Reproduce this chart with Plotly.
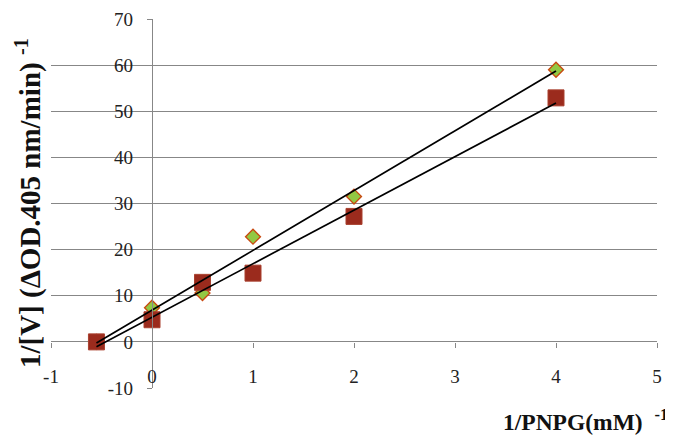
import numpy as np
import plotly.graph_objects as go

# Data
x_series1 = [-0.55, 0, 0.5, 1, 2, 4]
y_series1 = [0, 7.4, 10.6, 22.8, 31.5, 59.0]

x_series2 = [-0.55, 0, 0.5, 1, 2, 4]
y_series2 = [0, 4.8, 12.9, 14.9, 27.2, 52.9]

x_ticks = [-1, 0, 1, 2, 3, 4, 5]
y_ticks = [-10, 0, 10, 20, 30, 40, 50, 60, 70]

FONT = "Liberation Serif"
GRID = "#878787"

fig = go.Figure()

fig.add_trace(go.Scatter(
    x=x_series1, y=y_series1, mode="markers", name="Series 1",
    marker=dict(symbol="diamond", size=11.5, color="#92C843",
                line=dict(color="#C9480F", width=1.3)),
    showlegend=False))

fig.add_trace(go.Scatter(
    x=x_series2, y=y_series2, mode="markers", name="Series 2",
    marker=dict(symbol="square", size=16, color="#9B2B1D",
                line=dict(color="#A9412F", width=1)),
    showlegend=False))

# Linear trendlines (least-squares fit over each series' range)
for xs, ys in [(x_series1, y_series1), (x_series2, y_series2)]:
    xs_a = np.array(xs, dtype=float)
    slope, intercept = np.polyfit(xs_a, np.array(ys, dtype=float), 1)
    xl = np.array([xs_a.min(), xs_a.max()])
    fig.add_trace(go.Scatter(
        x=xl, y=slope * xl + intercept, mode="lines",
        line=dict(color="black", width=1.7), showlegend=False,
        hoverinfo="skip"))

fig.update_layout(
    width=673, height=442,
    margin=dict(l=43, r=24, t=11, b=62, autoexpand=False),
    paper_bgcolor="white", plot_bgcolor="white",
    font=dict(family=FONT, color="#222222", size=18),
    xaxis=dict(
        range=[-1, 5], tickvals=x_ticks, ticktext=[str(v) for v in x_ticks],
        showgrid=False, zeroline=False, showline=False, automargin=False,
        anchor="free", position=10 / 80,
        ticks="outside", ticklen=5, tickwidth=1.3, tickcolor=GRID,
        ticklabelstandoff=12,
        tickfont=dict(family=FONT, size=19, color="#222222"),
    ),
    yaxis=dict(
        range=[-10, 70], tickvals=y_ticks, ticktext=[str(v) for v in y_ticks],
        showgrid=True, gridcolor=GRID, gridwidth=1.4, automargin=False,
        zeroline=False, showline=True, linecolor=GRID, linewidth=1.4,
        anchor="free", position=1 / 6,
        ticks="outside", ticklen=5, tickwidth=1.3, tickcolor=GRID,
        ticklabelstandoff=10,
        tickfont=dict(family=FONT, size=19, color="#222222"),
    ),
    annotations=[
        dict(text="<b>1/[V] (ΔOD.405 nm/min) <sup>-1</sup></b>",
             xref="paper", yref="paper", x=-0.037, y=0.5, textangle=-90,
             showarrow=False, xanchor="center", yanchor="middle",
             font=dict(family=FONT, size=29, color="#111111")),
        dict(text="<b>1/PNPG(mM)&nbsp; <sup>-1</sup></b>",
             xref="paper", yref="paper", x=1.022, y=-0.04,
             showarrow=False, xanchor="right", yanchor="top",
             font=dict(family=FONT, size=23.5, color="#111111")),
    ],
)

fig.write_html("out.html")
